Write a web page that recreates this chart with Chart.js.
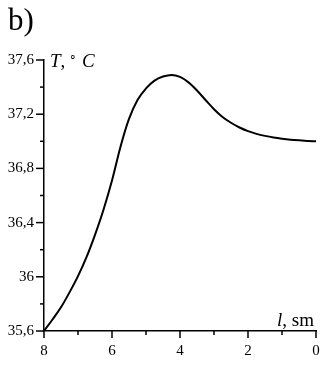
<!DOCTYPE html>
<html>
<head>
<meta charset="utf-8">
<script src="https://cdn.jsdelivr.net/npm/chart.js@4"></script>
<style>
  html, body { margin: 0; padding: 0; background: #fff; }
  #wrap { position: relative; width: 327px; height: 365px; }
  canvas { position: absolute; left: 0; top: 0; }
  .lbl { position: absolute; font-family: "Liberation Serif", "Times New Roman", serif; color: #000; white-space: nowrap; line-height: 1; }
</style>
</head>
<body>
<div id="wrap">
  <canvas id="c" width="327" height="365"></canvas>
  <div class="lbl" style="left:8px; top:4px; font-size:31px;">b)</div>
  <div class="lbl" style="left:50px; top:51px; font-size:19px;"><i>T</i>,<span style="font-size:12px; position:relative; top:-6px; margin-left:4px;">∘</span> <i>C</i></div>
  <div class="lbl" style="left:277px; top:310px; font-size:19px;"><i>l</i>, sm</div>
</div>
<script>
// Data
const lengthSm = [8.0, 7.75, 7.5, 7.25, 7.0, 6.75, 6.5, 6.25, 6.0, 5.75, 5.5, 5.25, 5.0, 4.75, 4.5, 4.25, 4.0, 3.75, 3.5, 3.25, 3.0, 2.75, 2.5, 2.25, 2.0, 1.75, 1.5, 1.25, 1.0, 0.75, 0.5, 0.25, 0.0];
const tempC    = [35.6, 35.685, 35.775, 35.885, 36.005, 36.145, 36.31, 36.495, 36.71, 36.96, 37.165, 37.305, 37.39, 37.448, 37.478, 37.49, 37.475, 37.435, 37.375, 37.305, 37.237, 37.18, 37.137, 37.102, 37.075, 37.055, 37.04, 37.028, 37.019, 37.012, 37.007, 37.003, 37.0];
const xTicks = [0, 1, 2, 3, 4, 5, 6, 7, 8];
const xTickLabels = { 0: "0", 2: "2", 4: "4", 6: "6", 8: "8" };
const yTicks = [35.6, 35.8, 36.0, 36.2, 36.4, 36.6, 36.8, 37.0, 37.2, 37.4, 37.6];
const yTickLabels = { "35.6": "35,6", "36.0": "36", "36.4": "36,4", "36.8": "36,8", "37.2": "37,2", "37.6": "37,6" };

const points = lengthSm.map((l, i) => ({ x: l, y: tempC[i] }));

const tickPlugin = {
  id: 'customTicks',
  afterDraw(chart) {
    const ctx = chart.ctx;
    const xs = chart.scales.x, ys = chart.scales.y;
    const area = chart.chartArea;
    ctx.save();
    ctx.strokeStyle = '#000';
    ctx.lineWidth = 1.5;
    xTicks.forEach(v => {
      const px = xs.getPixelForValue(v);
      const len = xTickLabels[v] !== undefined ? 7 : 4;
      ctx.beginPath();
      ctx.moveTo(px, area.bottom);
      ctx.lineTo(px, area.bottom + len);
      ctx.stroke();
    });
    yTicks.forEach(v => {
      const py = ys.getPixelForValue(v);
      const len = yTickLabels[v.toFixed(1)] !== undefined ? 8 : 4;
      ctx.beginPath();
      ctx.moveTo(area.left, py);
      ctx.lineTo(area.left - len, py);
      ctx.stroke();
    });
    ctx.restore();
  }
};

new Chart(document.getElementById('c'), {
  type: 'line',
  data: {
    datasets: [{
      data: points,
      borderColor: '#000',
      borderWidth: 2,
      pointRadius: 0,
      fill: false,
      cubicInterpolationMode: 'monotone'
    }]
  },
  options: {
    responsive: false,
    animation: false,
    layout: { padding: { top: 60, right: 11, left: 0, bottom: 0 } },
    plugins: { legend: { display: false }, tooltip: { enabled: false } },
    scales: {
      x: {
        type: 'linear',
        reverse: true,
        min: 0, max: 8,
        afterBuildTicks: s => { s.ticks = xTicks.map(v => ({ value: v })); },
        afterFit: s => { s.height = 34; },
        grid: { display: false, drawTicks: false },
        border: { display: true, color: '#000', width: 1.5 },
        ticks: {
          autoSkip: false, maxRotation: 0, padding: 11,
          color: '#000',
          font: { family: '"Liberation Serif", serif', size: 15 },
          callback: v => xTickLabels[v] !== undefined ? xTickLabels[v] : ''
        }
      },
      y: {
        type: 'linear',
        min: 35.6, max: 37.6,
        afterBuildTicks: s => { s.ticks = yTicks.map(v => ({ value: v })); },
        afterFit: s => { s.width = 44; },
        grid: { display: false, drawTicks: false },
        border: { display: true, color: '#000', width: 1.5 },
        ticks: {
          autoSkip: false, padding: 10,
          color: '#000',
          font: { family: '"Liberation Serif", serif', size: 15 },
          callback: v => { const k = Number(v).toFixed(1); return yTickLabels[k] !== undefined ? yTickLabels[k] : ''; }
        }
      }
    }
  },
  plugins: [tickPlugin]
});
</script>
</body>
</html>
